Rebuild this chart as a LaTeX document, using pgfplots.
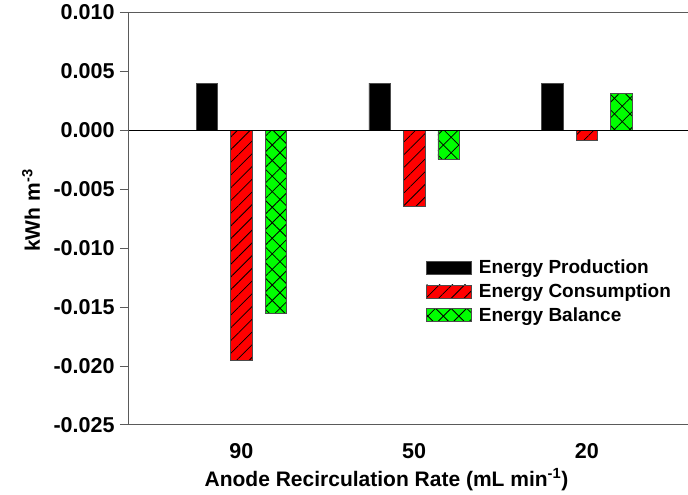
\documentclass[border=0pt]{standalone}
\usepackage{pgfplots}
\pgfplotsset{compat=1.18}
\usepackage{fontspec}
\setmainfont{Liberation Sans}
\usetikzlibrary{patterns.meta}

\definecolor{prodcol}{RGB}{0,0,0}
\definecolor{conscol}{RGB}{255,0,0}
\definecolor{balcol}{RGB}{0,255,0}
\definecolor{framecol}{RGB}{90,90,90}

\tikzset{
  hatchA/.style={postaction={pattern={Lines[angle=45,distance=9pt,line width=0.8pt]}, pattern color=black}},
  hatchX/.style={postaction={pattern={Lines[angle=45,distance=11pt,line width=0.8pt]}, pattern color=black},
                 postaction={pattern={Lines[angle=-45,distance=11pt,line width=0.8pt]}, pattern color=black}},
}

\begin{document}
\begin{tikzpicture}
\path[use as bounding box] (-129pt,-70pt) rectangle (559pt,425pt);
\begin{axis}[
  at={(0,0)}, anchor=south west,
  scale only axis,
  width=559pt, height=412.5pt,
  xmin=-0.651, xmax=2.585,
  ymin=-0.025, ymax=0.010,
  axis x line*=box, axis y line*=left,
  axis line style={framecol, line width=1pt},
  xtick={0,1,2},
  xticklabels={90,50,20},
  xtick pos=bottom,
  ytick={-0.025,-0.020,-0.015,-0.010,-0.005,0,0.005,0.010},
  yticklabels={-0.025,-0.020,-0.015,-0.010,-0.005,0.000,0.005,0.010},
  scaled y ticks=false,
  major tick length=9pt,
  x tick style={draw=none},
  y tick style={framecol, line width=1pt},
  ytick align=outside,
  tick label style={font=\bfseries\fontsize{21.5}{24}\selectfont},
  yticklabel style={xshift=-2pt},
  xticklabel style={anchor=base, yshift=-24pt},
  xlabel={Anode Recirculation Rate (mL min\textsuperscript{-1})},
  ylabel={kWh m\textsuperscript{-3}},
  label style={font=\bfseries\fontsize{21}{24}\selectfont},
  xlabel style={at={(axis description cs:0.4606,-0.148)}, anchor=base},
  ylabel style={at={(axis description cs:-0.1753,0.52)}, anchor=center},
  ybar=13pt, bar width=21.5pt,
  legend style={at={(axis description cs:0.526,0.41)}, anchor=north west,
    draw=none, fill=none, font=\bfseries\fontsize{19}{21}\selectfont,
    row sep=4.5pt, column sep=5pt, legend cell align=left},
  legend image code/.code={\draw[#1] (0pt,-6.5pt) rectangle (45pt,6.5pt);},
]
% Energy production
\addplot[fill=prodcol, draw=black!70, line width=0.6pt]
  coordinates {(0,0.0040) (1,0.0040) (2,0.0040)};
% Energy consumption
\addplot[fill=conscol, draw=black!70, line width=0.6pt, hatchA]
  coordinates {(0,-0.01955) (1,-0.00647) (2,-0.00088)};
% Energy balance
\addplot[fill=balcol, draw=black!70, line width=0.6pt, hatchX]
  coordinates {(0,-0.01555) (1,-0.00247) (2,0.00312)};
% zero line
\addplot[forget plot, sharp plot, black, line width=1.2pt]
  coordinates {(-0.651,0) (2.585,0)};
\legend{Energy Production, Energy Consumption, Energy Balance}
\end{axis}
\end{tikzpicture}
\end{document}
